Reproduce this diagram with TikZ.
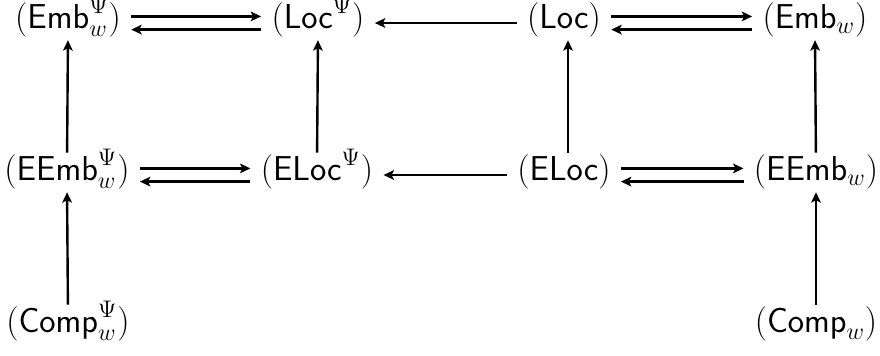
\documentclass[tikz,border=0pt]{standalone}
\usetikzlibrary{arrows.meta}
\begin{document}
\begin{tikzpicture}[x=0.5pt,y=-0.5pt,
  obj/.style={inner sep=0pt, text height=0.75em, text depth=0.25em,
              font=\fontsize{16.5}{19}\selectfont},
  arr/.style={line width=1.2pt, -{Stealth[length=5.2pt,width=4.8pt,inset=1.2pt]}},
  harr/.style={arr, shorten <=5pt, shorten >=5pt},
  varr/.style={arr, shorten <=6pt, shorten >=3.4pt}]
  \useasboundingbox (0,0) rectangle (880,355);

  % top row
  \node[obj] (embP)  at (68,23)  {$(\mathsf{Emb}^{\Psi}_{w})$};
  \node[obj] (locP)  at (318,23) {$(\mathsf{Loc}^{\Psi})$};
  \node[obj] (loc)   at (564,23) {$(\mathsf{Loc})$};
  \node[obj] (emb)   at (815,23) {$(\mathsf{Emb}_{w})$};
  % middle row
  \node[obj] (eembP) at (67,175)   {$(\mathsf{EEmb}^{\Psi}_{w})$};
  \node[obj] (elocP) at (317,175)  {$(\mathsf{ELoc}^{\Psi})$};
  \node[obj] (eloc)  at (564,175)  {$(\mathsf{ELoc})$};
  \node[obj] (eemb)  at (816,175)  {$(\mathsf{EEmb}_{w})$};
  % bottom row
  \node[obj] (compP) at (68,327)   {$(\mathsf{Comp}^{\Psi}_{w})$};
  \node[obj] (comp)  at (816,327)  {$(\mathsf{Comp}_{w})$};

  % horizontal pairs and single arrows
  \draw[harr] ([yshift=3.3pt]embP.east) -- ([yshift=3.3pt]locP.west);
  \draw[harr] ([yshift=-3.3pt]locP.west) -- ([yshift=-3.3pt]embP.east);
  \draw[harr] (loc.west) -- (locP.east);
  \draw[harr] ([yshift=3.3pt]loc.east) -- ([yshift=3.3pt]emb.west);
  \draw[harr] ([yshift=-3.3pt]emb.west) -- ([yshift=-3.3pt]loc.east);

  \draw[harr] ([yshift=3.3pt]eembP.east) -- ([yshift=3.3pt]elocP.west);
  \draw[harr] ([yshift=-3.3pt]elocP.west) -- ([yshift=-3.3pt]eembP.east);
  \draw[harr] (eloc.west) -- (elocP.east);
  \draw[harr] ([yshift=3.3pt]eloc.east) -- ([yshift=3.3pt]eemb.west);
  \draw[harr] ([yshift=-3.3pt]eemb.west) -- ([yshift=-3.3pt]eloc.east);

  % vertical arrows
  \draw[varr] (eembP.north) -- (embP.south);
  \draw[varr] (elocP.north) -- (locP.south);
  \draw[varr] ([xshift=2pt]eloc.north) -- ([xshift=2pt]loc.south);
  \draw[varr] (eemb.north) -- (emb.south);
  \draw[varr] (compP.north) -- (eembP.south);
  \draw[varr] (comp.north) -- (eemb.south);
\end{tikzpicture}
\end{document}
